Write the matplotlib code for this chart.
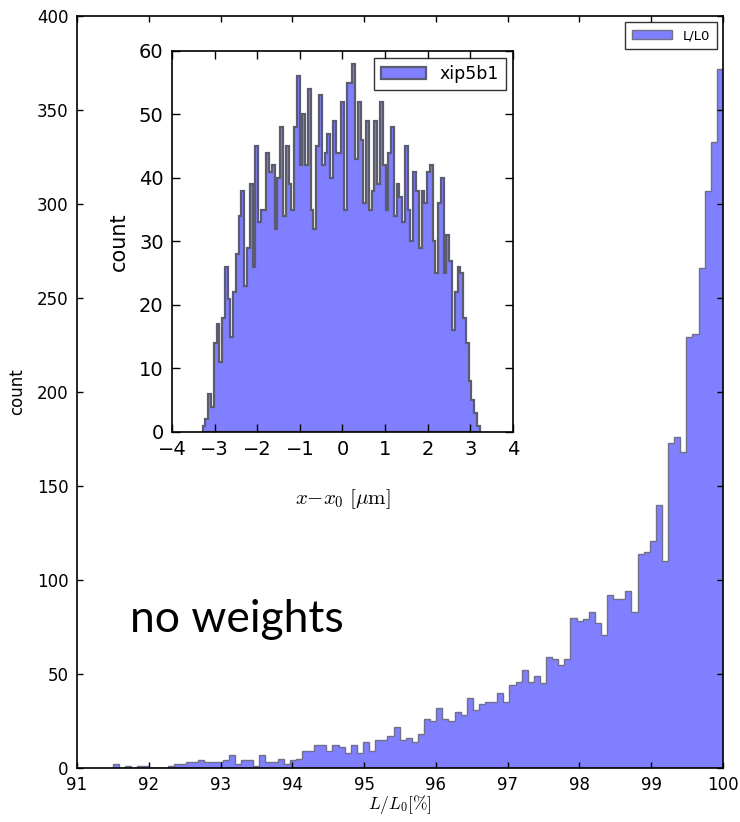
import numpy as np
import matplotlib.pyplot as plt

plt.rcParams['mathtext.fontset'] = 'cm'
plt.rcParams['font.family'] = ['DejaVu Sans']

# main histogram: L/L0 [%], 100 bins between 91.5 and 100
main_lo, main_hi = 91.5, 100.0
main_counts = [2, 0, 1, 0, 1, 1, 0, 0, 0, 1,
               2, 2, 3, 3, 4, 3, 3, 3, 4, 7,
               2, 4, 4, 1, 7, 3, 3, 5, 2, 4,
               5, 9, 9, 12, 12, 9, 12, 11, 8, 12,
               8, 14, 9, 15, 15, 17, 22, 15, 16, 14,
               18, 26, 25, 32, 26, 25, 30, 28, 37, 31,
               34, 35, 35, 40, 35, 44, 46, 52, 46, 49,
               45, 59, 58, 55, 58, 80, 78, 79, 83, 77,
               71, 92, 90, 90, 94, 83, 114, 115, 121, 140,
               110, 173, 176, 168, 229, 231, 266, 307, 333, 372]

# inset histogram: x - x0 [um], 100 bins between -3.28 and 3.22
ins_lo, ins_hi = -3.28, 3.22
ins_counts = [1, 2, 6, 4, 14, 17, 11, 18, 26, 21,
              15, 22, 28, 34, 38, 23, 29, 39, 26, 45,
              33, 35, 35, 44, 41, 42, 32, 40, 48, 34,
              45, 39, 35, 48, 56, 42, 50, 42, 54, 35,
              32, 45, 53, 42, 44, 47, 40, 49, 44, 44,
              52, 35, 55, 55, 58, 43, 52, 46, 36, 49,
              35, 38, 49, 39, 52, 42, 35, 44, 48, 34,
              39, 37, 33, 45, 35, 30, 41, 38, 29, 38,
              36, 41, 42, 30, 25, 36, 40, 25, 31, 27,
              16, 22, 26, 25, 18, 14, 8, 5, 3, 1]

fill = '#7f7fff'

fig = plt.figure(figsize=(7.4, 8.22), dpi=100)
ax = fig.add_axes([0.104, 0.0657, 0.873, 0.9148])

edges = np.linspace(main_lo, main_hi, len(main_counts) + 1)
centers = (edges[:-1] + edges[1:]) / 2
ax.hist(centers, bins=edges, weights=main_counts, histtype='stepfilled',
        facecolor=fill, edgecolor='#707088', linewidth=1.0, label='L/L0')
ax.set_xlim(91, 100)
ax.set_ylim(0, 400)
ax.set_xticks(range(91, 101))
ax.set_yticks(range(0, 401, 50))
ax.tick_params(direction='in', top=True, right=True, length=4, width=1,
               labelsize=12, pad=6)
for s in ax.spines.values():
    s.set_linewidth(1.2)
ax.set_xlabel(r'$L/L_0 [\%]$', fontsize=12.5, labelpad=-1)
ax.set_ylabel('count', fontsize=12, labelpad=8)
leg = ax.legend(loc='upper right', fontsize=9.5, fancybox=False,
                borderaxespad=0.45, handlelength=3.0, borderpad=0.55)
leg.get_frame().set_edgecolor('black')

ax.text(0.082, 0.197, 'no weights', transform=ax.transAxes,
        fontsize=32, family='Lato', va='center')

# inset
axi = fig.add_axes([0.2324, 0.4745, 0.4608, 0.4635])
iedges = np.linspace(ins_lo, ins_hi, len(ins_counts) + 1)
icenters = (iedges[:-1] + iedges[1:]) / 2
axi.hist(icenters, bins=iedges, weights=ins_counts, histtype='stepfilled',
         facecolor=fill, edgecolor='#5c5c70', linewidth=1.6, label='xip5b1')
axi.set_xlim(-4, 4)
axi.set_ylim(0, 60)
axi.set_xticks(range(-4, 5))
axi.set_yticks(range(0, 61, 10))
axi.tick_params(direction='in', top=True, right=True, length=6, width=1,
                labelsize=14, pad=6)
for s in axi.spines.values():
    s.set_linewidth(1.2)
axi.set_xlabel(r'$x{-}x_0\ [\mu\mathrm{m}]$', fontsize=15, labelpad=20)
axi.set_ylabel('count', fontsize=15, labelpad=7)
leg2 = axi.legend(loc='upper right', fontsize=12.5, fancybox=False,
                  borderaxespad=0.4, handlelength=2.6)
leg2.get_frame().set_edgecolor('black')

fig.savefig('out.png', dpi=100, facecolor='white')
